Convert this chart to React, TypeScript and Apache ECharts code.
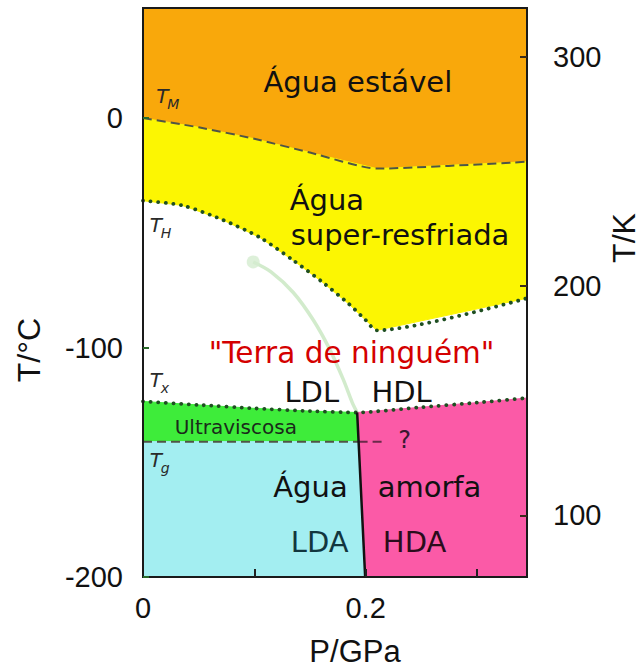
import React, { useEffect, useRef } from "react";
import * as echarts from "echarts";

// ---- axis ranges ----
const P_MIN = 0;
const P_MAX = 0.345;
const T_MIN = -200;
const T_MAX = 48;
const K_OFFSET = 273.15;

// ---- tick values ----
const pLabelTicks = [0, 0.2];
const pMinorTicks = [0.1, 0.2, 0.3];
const tCelsiusTicks = [-200, -100, 0];
const tKelvinTicks = [100, 200, 300];

// ---- boundaries (P in GPa, T in °C) ----
// melting line T_M
const tmP = [0, 0.05, 0.1, 0.15, 0.21, 0.345];
const tmT = [0, -4, -9, -15, -22, -19];
// homogeneous nucleation T_H
const thP = [0, 0.035, 0.07, 0.105, 0.135, 0.16, 0.185, 0.2, 0.21, 0.345];
const thT = [-36, -38, -44, -52, -62, -71, -81, -88, -92.5, -78.5];
// crystallization T_X
const txP = [0, 0.05, 0.1, 0.15, 0.1924, 0.25, 0.3, 0.345];
const txT = [-123.5, -125, -126.5, -127.7, -128.3, -126, -124, -122];
// glass transition T_g
const tgP = [0, 0.1937];
const tgT = [-141, -141];
const tgExtP = [0.1937, 0.215];
const tgExtT = [-141, -141];
// LDA / HDA boundary
const ldaHdaP = [0.1924, 0.1937, 0.1996];
const ldaHdaT = [-128.3, -141, -200];
// LDL-HDL line with critical point
const llP = [0.099, 0.115, 0.135, 0.153, 0.168, 0.18, 0.188, 0.1924];
const llT = [-62.7, -67, -76, -88, -101, -114, -124, -128.3];

// ---- region labels ----
const labelTexts = [
  "Água estável",
  "Água",
  "super-resfriada",
  "\"Terra de ninguém\"",
  "LDL",
  "HDL",
  "Ultraviscosa",
  "?",
  "Água",
  "amorfa",
  "LDA",
  "HDA",
];
const labelP = [0.193, 0.1318, 0.1327, 0.1874, 0.1516, 0.2323, 0.0834, 0.235, 0.1839, 0.2108, 0.1587, 0.244];
const labelT = [15.7, -35.7, -51, -102.4, -119.4, -119.4, -134.6, -140.3, -160.8, -160.8, -184.7, -184.7];

// curve symbols T_M, T_H, T_x, T_g
const symMain = ["T", "T", "T", "T"];
const symSub = ["M", "H", "x", "g"];
const symP = [0.012, 0.006, 0.006, 0.006];
const symT = [9.5, -46.6, -114.2, -149];

const zip = (a: number[], b: number[]) => a.map((v, i) => [v, b[i]]);
const rev = <T,>(a: T[]) => a.slice().reverse();

export default function App() {
  const ref = useRef<HTMLDivElement>(null);

  useEffect(() => {
    if (!ref.current) return;
    const chart = echarts.init(ref.current, null, { renderer: "svg" });

    const tm = zip(tmP, tmT);
    const th = zip(thP, thT);
    const tx = zip(txP, txT);
    const txLeft = tx.filter((d) => d[0] <= 0.1924);
    const txRight = tx.filter((d) => d[0] >= 0.1924);
    const bnd = zip(ldaHdaP, ldaHdaT);

    const regions = [
      { color: "#f9a80b", pts: [[P_MIN, T_MAX], [P_MAX, T_MAX], ...rev(tm)] },
      { color: "#fcf602", pts: [...tm, ...rev(th)] },
      { color: "#3eec3a", pts: [...txLeft, bnd[1], [P_MIN, tgT[0]]] },
      { color: "#a3eef1", pts: [[P_MIN, tgT[0]], bnd[1], bnd[2], [P_MIN, T_MIN]] },
      { color: "#fb5aa7", pts: [...txRight, [P_MAX, T_MIN], bnd[2], bnd[1]] },
    ];

    const labelStyles = [
      { size: 29, color: "#111", align: "center" },
      { size: 29, color: "#111", align: "left" },
      { size: 29, color: "#111", align: "left" },
      { size: 29.5, color: "#d40000", align: "center" },
      { size: 29, color: "#111", align: "center" },
      { size: 29, color: "#111", align: "center" },
      { size: 20, color: "#1a2a1a", align: "center" },
      { size: 24, color: "#3a1830", align: "center" },
      { size: 29, color: "#111", align: "right" },
      { size: 29, color: "#111", align: "left" },
      { size: 29, color: "#12363e", align: "center" },
      { size: 29, color: "#2a0c1c", align: "center" },
    ];

    const dotted = {
      type: [0.1, 7.5] as any,
      width: 3.8,
      cap: "round",
      color: "#1f4f22",
    };
    const dashed = {
      type: [9, 5] as any,
      width: 2,
      color: "#505446",
    };

    const lineSeries = (data: number[][], lineStyle: any, z = 5, smooth: any = false) => ({
      type: "line",
      data,
      showSymbol: false,
      symbol: "none",
      smooth,
      lineStyle,
      z,
      silent: true,
      clip: true,
    });

    const axisFont = "Liberation Sans";

    const option: any = {
      animation: false,
      grid: {
        left: 143,
        right: 117,
        top: 8,
        bottom: 93,
        show: true,
        borderColor: "#1a1a1a",
        borderWidth: 2,
        backgroundColor: "transparent",
        z: 10,
      },
      xAxis: {
        type: "value",
        min: P_MIN,
        max: P_MAX,
        axisLine: { show: false, onZero: false },
        splitLine: { show: false },
        axisTick: {
          show: true,
          inside: true,
          length: 8,
          customValues: pMinorTicks,
          lineStyle: { color: "#222", width: 2 },
        },
        axisLabel: {
          customValues: pLabelTicks,
          formatter: (v: number) => (v === 0 ? "0" : String(v)),
          fontFamily: axisFont,
          fontSize: 29,
          color: "#111",
          margin: 16,
        },
        z: 12,
      },
      yAxis: [
        {
          type: "value",
          min: T_MIN,
          max: T_MAX,
          axisLine: { show: false, onZero: false },
          splitLine: { show: false },
          axisTick: {
            show: true,
            inside: true,
            length: 6,
            customValues: tCelsiusTicks,
            lineStyle: { color: "#2a6a2a", width: 2 },
          },
          axisLabel: {
            customValues: tCelsiusTicks,
            fontFamily: axisFont,
            fontSize: 29,
            color: "#111",
            margin: 20,
          },
          z: 12,
        },
        {
          type: "value",
          position: "right",
          min: T_MIN + K_OFFSET,
          max: T_MAX + K_OFFSET,
          axisLine: { show: false, onZero: false },
          splitLine: { show: false },
          axisTick: {
            show: true,
            inside: true,
            length: 7,
            customValues: tKelvinTicks,
            lineStyle: { color: "#3a2a1a", width: 2 },
          },
          axisLabel: {
            customValues: tKelvinTicks,
            fontFamily: axisFont,
            fontSize: 29,
            color: "#111",
            margin: 26,
          },
          z: 12,
        },
      ],
      graphic: [
        {
          type: "text",
          x: 29,
          y: 350,
          rotation: Math.PI / 2,
          style: {
            text: "T/°C",
            font: `32px "${axisFont}"`,
            fill: "#111",
            align: "center",
            verticalAlign: "middle",
          },
        },
        {
          type: "text",
          x: 624,
          y: 238,
          rotation: Math.PI / 2,
          style: {
            text: "T/K",
            font: `32px "${axisFont}"`,
            fill: "#111",
            align: "center",
            verticalAlign: "middle",
          },
        },
        {
          type: "text",
          x: 355,
          y: 651,
          style: {
            text: "P/GPa",
            font: `31px "${axisFont}"`,
            fill: "#111",
            align: "center",
            verticalAlign: "middle",
          },
        },
      ],
      series: [
        {
          type: "custom",
          coordinateSystem: "cartesian2d",
          data: regions.map((_, i) => [i]),
          silent: true,
          z: 1,
          renderItem: (params: any, api: any) => {
            const r = regions[params.dataIndex];
            const points = r.pts.map((d) => api.coord(d));
            return {
              type: "polygon",
              shape: { points },
              style: { fill: r.color, stroke: r.color, lineWidth: 1 },
            };
          },
        },
        // LDL-HDL pale line
        lineSeries(zip(llP, llT), { color: "#cde9c6", width: 3.5, opacity: 0.9 }, 3, 0.3),
        {
          type: "scatter",
          data: [[llP[0], llT[0]]],
          symbolSize: 13,
          itemStyle: { color: "#d4ecd0" },
          silent: true,
          z: 3,
        },
        lineSeries(tm, dashed, 5, 0.2),
        lineSeries(th, dotted, 5, 0.25),
        lineSeries(tx, dotted, 5, 0.2),
        lineSeries(zip(tgP, tgT), dashed, 5),
        lineSeries(zip(tgExtP, tgExtT), { ...dashed, color: "#6a2a4a" }, 5),
        lineSeries(bnd, { color: "#111", width: 2.5 }, 6),
        // labels
        {
          type: "custom",
          coordinateSystem: "cartesian2d",
          data: labelTexts.map((_, i) => [labelP[i], labelT[i]]),
          silent: true,
          z: 8,
          renderItem: (params: any, api: any) => {
            const i = params.dataIndex;
            const [x, y] = api.coord([labelP[i], labelT[i]]);
            const s = labelStyles[i];
            return {
              type: "text",
              x,
              y,
              style: {
                text: labelTexts[i],
                font: `${s.size}px "DejaVu Sans"`,
                fill: s.color,
                align: s.align,
                verticalAlign: "middle",
              },
            };
          },
        },
        {
          type: "custom",
          coordinateSystem: "cartesian2d",
          data: symMain.map((_, i) => [symP[i], symT[i]]),
          silent: true,
          z: 8,
          renderItem: (params: any, api: any) => {
            const i = params.dataIndex;
            const [x, y] = api.coord([symP[i], symT[i]]);
            return {
              type: "group",
              children: [
                {
                  type: "text",
                  x,
                  y,
                  style: {
                    text: symMain[i],
                    font: 'italic 20px "DejaVu Sans"',
                    fill: "#2a2a2a",
                    align: "left",
                    verticalAlign: "middle",
                  },
                },
                {
                  type: "text",
                  x: x + 11,
                  y: y + 8,
                  style: {
                    text: symSub[i],
                    font: 'italic 14px "DejaVu Sans"',
                    fill: "#2a2a2a",
                    align: "left",
                    verticalAlign: "middle",
                  },
                },
              ],
            };
          },
        },
      ],
    };

    chart.setOption(option);
    return () => chart.dispose();
  }, []);

  return (
    <div
      ref={ref}
      style={{ position: "fixed", left: 0, top: 0, width: 644, height: 670, background: "#fff" }}
    />
  );
}
